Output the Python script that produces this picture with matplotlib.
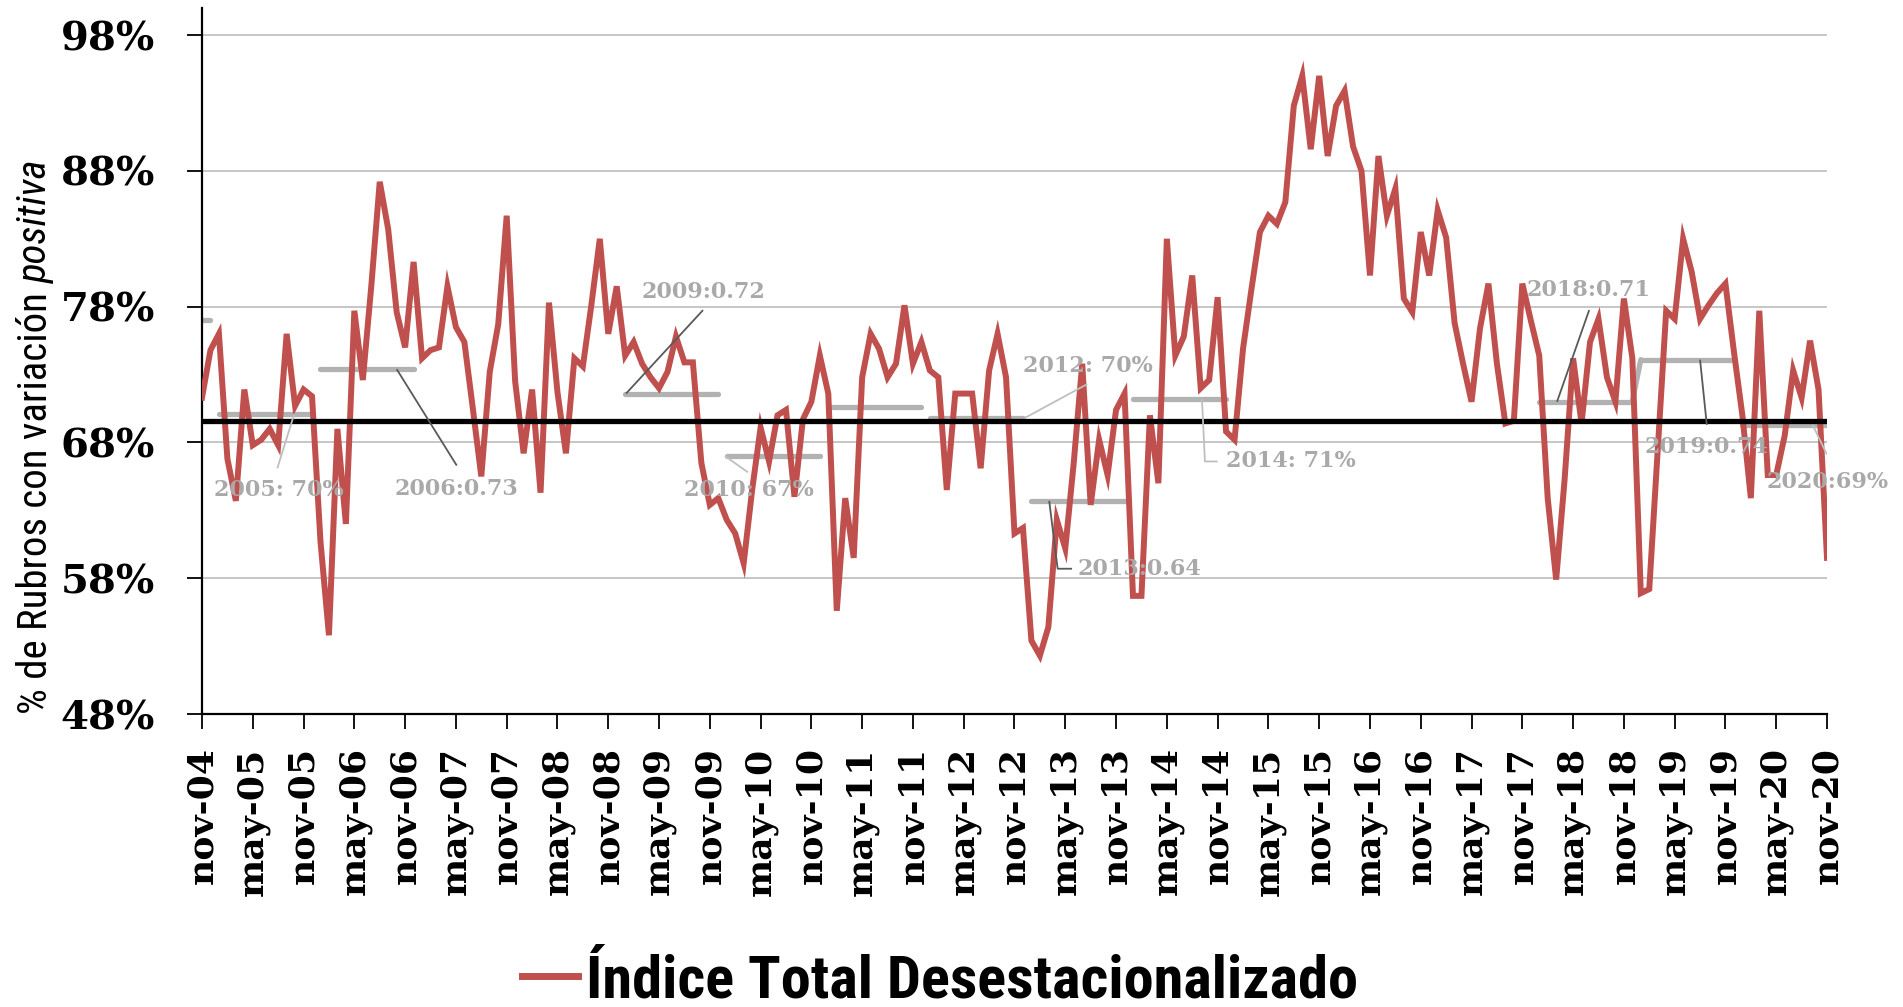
import matplotlib
matplotlib.use("Agg")
import matplotlib.pyplot as plt
from matplotlib import font_manager as fm
from matplotlib.lines import Line2D

# Monthly share (%) of items with a positive variation, seasonally adjusted,
# nov-2004 ... nov-2020
pct_positive = [
    71.3, 74.8,                                                              # 2004
    76.0, 66.8, 63.7, 71.9, 67.8, 68.2, 69.0, 67.8, 76.0, 70.7, 71.9, 71.4,  # 2005
    60.7, 53.8, 69.0, 62.0, 77.7, 72.6, 79.5, 87.2, 83.7, 77.6, 75.0, 81.3,  # 2006
    74.2, 74.8, 75.0, 79.5, 76.5, 75.4, 70.5, 65.5, 73.2, 76.7, 84.7, 72.5,  # 2007
    67.2, 71.9, 64.3, 78.3, 71.7, 67.2, 74.2, 73.6, 78.1, 83.0, 76.0, 79.5,  # 2008
    74.4, 75.4, 73.8, 72.8, 72.0, 73.2, 75.8, 73.9, 73.9, 66.5, 63.4, 63.9,  # 2009
    62.3, 61.3, 59.1, 64.5, 69.1, 66.6, 70.0, 70.4, 64.0, 69.7, 71.0, 74.4,  # 2010
    71.6, 55.6, 63.9, 59.5, 72.8, 76.0, 74.9, 72.8, 73.8, 78.1, 73.8, 75.4,  # 2011
    73.3, 72.8, 64.5, 71.6, 71.6, 71.6, 66.1, 73.3, 76.0, 72.8, 61.3, 61.7,  # 2012
    53.4, 52.3, 54.4, 62.3, 60.2, 66.5, 73.8, 63.4, 68.2, 65.6, 70.4, 71.6,  # 2013
    56.7, 56.7, 70.0, 65.0, 83.0, 74.4, 75.8, 80.3, 72.0, 72.6, 78.7, 68.8,  # 2014
    68.2, 74.9, 79.3, 83.5, 84.7, 84.1, 85.7, 92.8, 95.0, 89.6, 95.0, 89.1,  # 2015
    92.8, 93.9, 89.8, 88.0, 80.3, 89.1, 84.7, 86.7, 78.6, 77.6, 83.5, 80.3,  # 2016
    85.1, 83.1, 76.8, 73.8, 71.0, 76.4, 79.7, 73.8, 69.4, 69.6, 79.7, 77.0,  # 2017
    74.4, 63.9, 57.9, 65.3, 74.2, 69.4, 75.4, 77.1, 72.8, 71.0, 78.6, 74.2,  # 2018
    56.9, 57.2, 67.4, 77.7, 77.1, 83.0, 80.6, 77.1, 78.1, 79.0, 79.7, 74.7,  # 2019
    70.0, 63.9, 77.7, 65.6, 65.6, 68.5, 73.3, 71.3, 75.5, 71.9, 59.5,        # 2020
]

tick_labels = [
    "nov-04", "may-05", "nov-05", "may-06", "nov-06", "may-07", "nov-07",
    "may-08", "nov-08", "may-09", "nov-09", "may-10", "nov-10", "may-11",
    "nov-11", "may-12", "nov-12", "may-13", "nov-13", "may-14", "nov-14",
    "may-15", "nov-15", "may-16", "nov-16", "may-17", "nov-17", "may-18",
    "nov-18", "may-19", "nov-19", "may-20", "nov-20",
]

y_ticks = [48, 58, 68, 78, 88, 98]
reference_level = 69.6

# Yearly averages (%) shown as grey bars
avg_years = [2004, 2005, 2006, 2009, 2010, 2011, 2012, 2013, 2014, 2018, 2019, 2020]
avg_values = [77.0, 70.1, 73.4, 71.6, 67.0, 70.6, 69.8, 63.7, 71.2, 71.0, 74.1, 69.3]

series_name = "Índice Total Desestacionalizado"
y_title_plain = "% de Rubros con variación "
y_title_italic = "positiva"

# Label layout for the yearly averages: text format, text position,
# leader waypoints (month index, %), first waypoint sits on the bar.
label_layout = {
    2005: dict(fmt="{y}: {p:.0f}%", pos=(9.1, 64.5), ha="center", leader=[10.9, (8.9, 66.1)], dark=False),
    2006: dict(fmt="{y}:{f:.2f}", pos=(30.1, 64.6), ha="center", leader=[23.0, (30.1, 66.3)], dark=True),
    2009: dict(fmt="{y}:{f:.2f}", pos=(59.2, 79.1), ha="center", leader=[50.1, (59.2, 77.75)], dark=True),
    2010: dict(fmt="{y}: {p:.0f}%", pos=(64.6, 64.5), ha="center", leader=[61.8, (64.5, 65.8)], dark=False),
    2012: dict(fmt="{y}: {p:.0f}%", pos=(104.7, 73.6), ha="center", leader=[97.2, (104.6, 72.3)], dark=False),
    2013: dict(fmt="{y}:{f:.2f}", pos=(103.4, 58.7), ha="left", leader=[100.1, (101.1, 58.7), (102.8, 58.7)], dark=True),
    2014: dict(fmt="{y}: {p:.0f}%", pos=(121.0, 66.6), ha="left", leader=[118.15, (118.5, 66.6), (120.0, 66.6)], dark=False),
    2018: dict(fmt="{y}:{f:.2f}", pos=(163.8, 79.2), ha="center", leader=[160.1, (163.9, 77.75)], dark=True),
    2019: dict(fmt="{y}:{f:.2f}", pos=(177.7, 67.7), ha="center", leader=[177.0, (177.8, 69.3)], dark=True),
    2020: dict(fmt="{y}:{p:.0f}%", pos=(192.1, 65.1), ha="center", leader=[190.3, (192.0, 67.1)], dark=False),
}

RED = "#c0504d"
BAR_GREY = "#b2b2b2"
LABEL_GREY = "#a9a9a9"
DARK_LEADER = "#595959"
LIGHT_LEADER = "#bfbfbf"
SERIF = "DejaVu Serif"


def condensed_font():
    entries = fm.fontManager.ttflist
    names = {f.name for f in entries}
    for fam in ["Liberation Sans Narrow", "Roboto Condensed", "Open Sans Condensed"]:
        if fam in names:
            return dict(family=fam, stretch="normal")
    if any(f.name == "DejaVu Sans" and f.stretch == "condensed" for f in entries):
        return dict(family="DejaVu Sans", stretch="condensed")
    return dict(family="DejaVu Sans", stretch="normal")


COND = condensed_font()

W, H = 1903, 1007
fig = plt.figure(figsize=(W / 100, H / 100), dpi=100)
ax = fig.add_axes([202 / W, 1 - 714 / H, (1827 - 202) / W, (714 - 8) / H])

months = list(range(len(pct_positive)))
n_last = months[-1]

# grid
for v in y_ticks:
    ax.axhline(v, color="#c6c6c6", lw=1.4, zorder=1)

# yearly average bars
bar_segments = {}
for yr, val in zip(avg_years, avg_values):
    if yr == 2004:
        start, end = 0, 1
    else:
        start = 2 + 12 * (yr - 2005)
        end = min(start + 11, n_last)
    bar_segments[yr] = (start, end, val)

bar_kw = dict(color=BAR_GREY, lw=3.8, solid_capstyle="round", zorder=2)
for yr, (s, e, v) in bar_segments.items():
    ax.plot([s, e], [v, v], **bar_kw)
# 2018 and 2019 bars are joined
s18, e18, v18 = bar_segments[2018]
s19, e19, v19 = bar_segments[2019]
ax.plot([e18, s19], [v18, v19], **bar_kw)

# main series
ax.plot(months, pct_positive, color=RED, lw=4.3, solid_joinstyle="miter", zorder=3)

# reference level
ax.axhline(reference_level, color="black", lw=3.8, zorder=4)

# average labels with leaders
for yr, lay in label_layout.items():
    s, e, v = bar_segments[yr]
    pts = [(lay["leader"][0], v)] + list(lay["leader"][1:])
    xs, ys = zip(*pts)
    ax.plot(xs, ys, color=DARK_LEADER if lay["dark"] else LIGHT_LEADER,
            lw=1.3, zorder=5, solid_capstyle="butt")
    txt = lay["fmt"].format(y=yr, p=v, f=v / 100)
    ax.text(lay["pos"][0], lay["pos"][1], txt, ha=lay["ha"], va="center",
            color=LABEL_GREY, fontsize=16, fontweight="bold", family=SERIF,
            zorder=6, clip_on=False)

ax.set_xlim(0, n_last)
ax.set_ylim(48, 100)

ax.set_yticks(y_ticks)
ax.set_yticklabels([f"{v}%" for v in y_ticks], fontsize=29,
                   fontweight="bold", family=SERIF)
ax.set_xticks(list(range(0, n_last + 1, 6)))
ax.set_xticklabels(tick_labels, rotation=90, fontsize=26,
                   fontweight="bold", family=SERIF, va="top", ha="center")
ax.tick_params(axis="y", length=11, width=1.3, pad=23, direction="out")
ax.tick_params(axis="x", length=11, width=1.3, pad=13, direction="out")

for side in ["top", "right"]:
    ax.spines[side].set_visible(False)
for side in ["left", "bottom"]:
    ax.spines[side].set_linewidth(1.6)
    ax.spines[side].set_color("black")

renderer = fig.canvas.get_renderer()


def fit_size(make, target_px, base=20.0):
    t = make(base)
    ext = t.get_window_extent(renderer)
    t.remove()
    return base * target_px / ext.width


# y-axis title: plain part + italic part, rotated
def y_title_parts(size):
    return fig.text(0, 0, y_title_plain + y_title_italic, fontsize=size,
                    family=COND["family"], fontstretch=COND["stretch"])


ysize = fit_size(y_title_parts, 558)
t_plain = fig.text(0, 0, y_title_plain, fontsize=ysize, family=COND["family"],
                   fontstretch=COND["stretch"])
t_ital = fig.text(0, 0, y_title_italic, fontsize=ysize, family=COND["family"],
                  fontstretch=COND["stretch"], style="italic")
w_plain = t_plain.get_window_extent(renderer).width
w_ital = t_ital.get_window_extent(renderer).width
t_plain.remove()
t_ital.remove()
total = w_plain + w_ital
cx, cy = 36, H - 437
y_bottom = cy - total / 2
fig.text(cx / W, y_bottom / H, y_title_plain, rotation=90, fontsize=ysize,
         family=COND["family"], fontstretch=COND["stretch"],
         ha="center", va="bottom")
fig.text(cx / W, (y_bottom + w_plain) / H, y_title_italic, rotation=90,
         fontsize=ysize, family=COND["family"], fontstretch=COND["stretch"],
         style="italic", ha="center", va="bottom")

# legend
lsize = fit_size(lambda s: fig.text(0, 0, series_name, fontsize=s,
                                    family=COND["family"],
                                    fontstretch=COND["stretch"],
                                    fontweight="bold"), 771)
handle = Line2D([], [], color=RED, lw=5)
fig.legend([handle], [series_name], loc="center",
           bbox_to_anchor=(940 / W, 1 - 981 / H), frameon=False,
           handlelength=56 / (lsize * 100 / 72), handletextpad=0.12,
           prop=fm.FontProperties(family=COND["family"], stretch=COND["stretch"],
                                  weight="bold", size=lsize))

fig.savefig("out.png", dpi=100, facecolor="white")
